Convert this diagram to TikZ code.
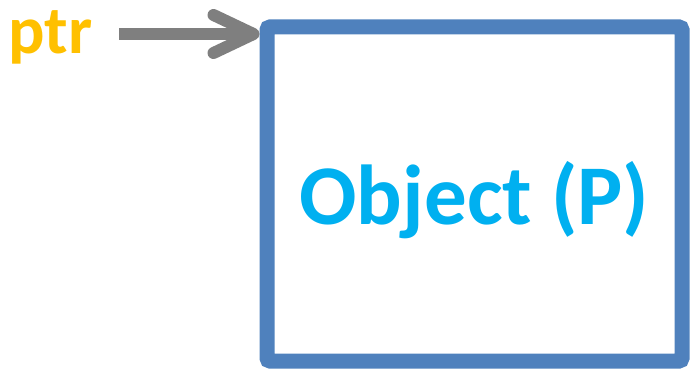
\documentclass[tikz,border=0pt]{standalone}
\usepackage{fontspec}
\setmainfont{Carlito}
\definecolor{boxblue}{RGB}{79,129,189}
\definecolor{textcyan}{RGB}{0,176,240}
\definecolor{ptrgold}{RGB}{255,192,0}
\definecolor{arwgray}{RGB}{127,127,127}
\usetikzlibrary{positioning, arrows.meta}

\begin{document}
\begin{tikzpicture}[x=1pt, y=-1pt,
  objbox/.style={draw=boxblue, line width=15pt, rounded corners=3pt,
    minimum width=415pt, minimum height=334pt, inner sep=0pt,
    text=textcyan, font=\fontsize{85}{100}\selectfont\bfseries},
  ptrlabel/.style={inner sep=0pt, text=ptrgold,
    font=\fontsize{68}{80}\selectfont\bfseries},
  ptrarw/.style={-{Straight Barb[length=40pt, width=38pt, line cap=round, line join=round]},
    line width=12pt, arwgray},
]
\useasboundingbox (0,0) rectangle (691,369);

% Object and pointer
\node[objbox] (obj) at (474.5,194) {\raisebox{-30pt}[0pt][0pt]{Object (P)}};
\node[ptrlabel, anchor=base west] (ptr) at (8,54) {ptr};

% Arrow
\coordinate (tail) at (119,34);
\draw[ptrarw] (tail) -- (tail -| obj.west);
\end{tikzpicture}
\end{document}
